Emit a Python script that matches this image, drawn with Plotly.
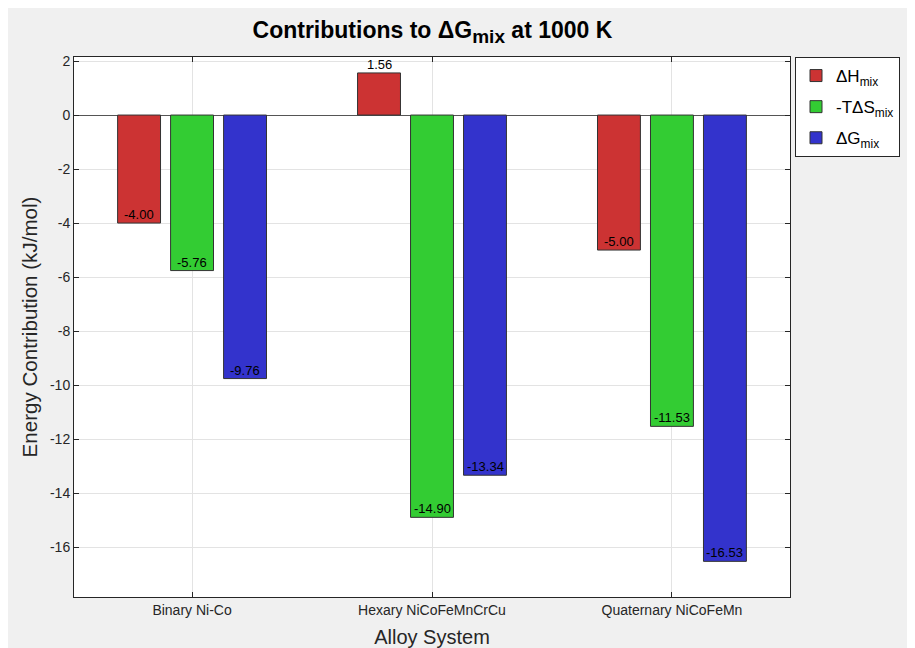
import plotly.graph_objects as go

categories = ["Binary Ni-Co", "Hexary NiCoFeMnCrCu", "Quaternary NiCoFeMn"]
dH_mix = [-4.00, 1.56, -5.00]
TdS_mix = [-5.76, -14.90, -11.53]
dG_mix = [-9.76, -13.34, -16.53]

series_names = ["ΔH<sub>mix</sub>", "-TΔS<sub>mix</sub>", "ΔG<sub>mix</sub>"]
series_values = [dH_mix, TdS_mix, dG_mix]
colors = ["#cc3333", "#33cc33", "#3333cc"]
shifts = [-53, 0, 53]

y_ticks = list(range(-16, 3, 2))
y_ticktext = [str(v) for v in y_ticks]

FONT = "Liberation Sans, Arial, Helvetica, sans-serif"
TXT = "#262626"

fig = go.Figure()
for i, (name, vals, col) in enumerate(zip(series_names, series_values, colors)):
    fig.add_trace(go.Bar(
        x=categories, y=vals, name=name, legendgroup=f"g{i}",
        marker=dict(color=col, line=dict(color="#333333", width=1)),
    ))

annotations = []
for vals, sh in zip(series_values, shifts):
    for cat, v in zip(categories, vals):
        annotations.append(dict(
            x=cat, y=v, xref="x", yref="y", text=f"{v:.2f}",
            showarrow=False, yanchor="bottom", xanchor="center",
            xshift=sh, yshift=-1,
            font=dict(family=FONT, size=13, color="black"),
        ))

fig.update_layout(
    width=907, height=640,
    paper_bgcolor="#f0f0f0", plot_bgcolor="white",
    margin=dict(l=66, r=125, t=49, b=51, autoexpand=False),
    barmode="group", bargap=0.3375, bargroupgap=0.19,
    font=dict(family=FONT, color=TXT),
    title=dict(text="<b>Contributions to ΔG<sub><span style='font-size:19px'>mix</span></sub> at 1000 K</b>",
               x=0.468, xanchor="center", y=0.966, yanchor="middle",
               font=dict(size=23, color="black", family=FONT)),
    legend=dict(x=1.007, y=1.0, xanchor="left", yanchor="top",
                bgcolor="white", bordercolor="#262626", borderwidth=1,
                font=dict(size=17, color="black", family=FONT),
                tracegroupgap=6, itemwidth=30),
    annotations=annotations,
    showlegend=True,
)
fig.update_xaxes(
    range=[-0.492, 2.492], showgrid=True, gridcolor="#e3e3e3",
    ticks="inside", ticklen=5, tickcolor=TXT, showline=True,
    linecolor=TXT, linewidth=1, mirror="ticks",
    tickfont=dict(size=14, color=TXT),
    title=dict(text="Alloy System", font=dict(size=20, color=TXT), standoff=13),
)
fig.update_yaxes(
    range=[-17.85, 2.15], tickvals=y_ticks, ticktext=y_ticktext,
    showgrid=True, gridcolor="#e3e3e3",
    zeroline=True, zerolinecolor="#555555", zerolinewidth=1,
    ticks="inside", ticklen=5, tickcolor=TXT, showline=True,
    linecolor=TXT, linewidth=1, mirror="ticks",
    tickfont=dict(size=14, color=TXT),
    title=dict(text="Energy Contribution (kJ/mol)", font=dict(size=20.6, color=TXT), standoff=6),
)

fig.write_html("out.html")
